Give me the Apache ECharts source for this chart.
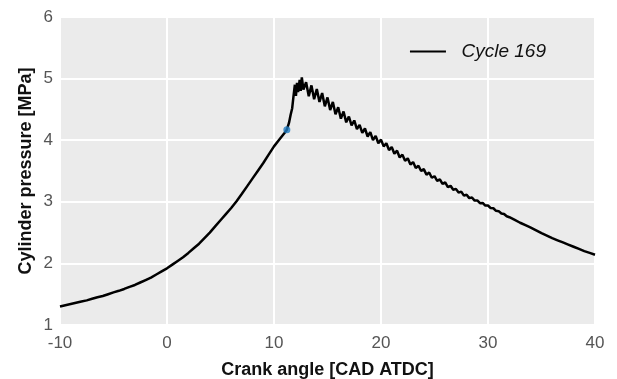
<!DOCTYPE html>
<html>
<head>
<meta charset="utf-8">
<script src="https://cdn.jsdelivr.net/npm/echarts@6/dist/echarts.min.js"></script>
<style>html,body{margin:0;padding:0;background:#fff}#c{width:617px;height:379px}</style>
</head>
<body>
<div id="c"></div>
<script>
var crankAngle = [-10,-9.5,-9,-8.5,-8,-7.5,-7,-6.5,-6,-5.5,-5,-4.5,-4,-3.5,-3,-2.5,-2,-1.5,-1,-0.5,
0,0.5,1,1.5,2,2.5,3,3.5,4,4.5,5,5.5,6,6.5,7,7.5,8,8.5,9,9.5,10,10.5,11,
11.2,11.4,11.55,11.7,11.8,11.95,12.05,12.15,12.25,12.4,12.5,12.6,12.75,
13,13.25,13.5,13.75,14,14.25,14.5,14.75,15,15.25,15.5,15.75,16,16.25,16.5,16.75,17,17.25,17.5,17.75,18,18.25,18.5,18.75,19,19.25,19.5,19.75,
20,20.25,20.5,20.75,21,21.25,21.5,21.75,22,22.25,22.5,22.75,23,23.25,23.5,23.75,24,24.25,24.5,24.75,25,25.25,25.5,25.75,26,26.25,26.5,26.75,
27,27.25,27.5,27.75,28,28.25,28.5,28.75,29,29.25,29.5,29.75,30,30.25,30.5,30.75,31,31.25,31.5,31.75,
32,32.5,33,33.5,34,34.5,35,35.5,36,36.5,37,37.5,38,38.5,39,39.5,40];
var pressure = [1.30,1.32,1.34,1.36,1.38,1.40,1.425,1.45,1.47,1.50,1.53,1.555,1.585,1.62,1.65,1.69,1.73,1.77,1.82,1.87,
1.92,1.98,2.04,2.10,2.17,2.245,2.32,2.41,2.50,2.60,2.70,2.80,2.90,3.01,3.13,3.255,3.38,3.505,3.63,3.765,3.90,4.01,4.12,
4.17,4.28,4.41,4.52,4.68,4.90,4.72,4.93,4.78,4.98,4.80,5.02,4.82,
4.94,4.715,4.89,4.665,4.83,4.62,4.765,4.55,4.695,4.49,4.62,4.42,4.535,4.35,4.465,4.29,4.385,4.24,4.32,4.18,4.25,4.12,4.19,4.06,4.13,4.00,4.07,3.95,
4.01,3.90,3.95,3.84,3.89,3.78,3.83,3.72,3.765,3.665,3.705,3.605,3.645,3.55,3.585,3.50,3.53,3.44,3.475,3.39,3.415,3.34,3.365,3.29,3.315,3.24,3.26,3.195,
3.21,3.15,3.165,3.10,3.115,3.06,3.07,3.02,3.022,2.978,2.982,2.938,2.94,2.898,2.895,2.853,2.848,2.81,2.803,2.765,
2.75,2.705,2.66,2.62,2.58,2.535,2.49,2.45,2.41,2.375,2.34,2.305,2.27,2.235,2.20,2.17,2.14];
var markerPoint = [11.2, 4.17];
var seriesName = 'Cycle 169';
var xTicks = [-10, 0, 10, 20, 30, 40];
var yTicks = [1, 2, 3, 4, 5, 6];

var lineData = crankAngle.map(function (x, i) { return [x, pressure[i]]; });
var font = 'Arial, "Liberation Sans", sans-serif';
var chart = echarts.init(document.getElementById('c'), null, {renderer: 'canvas'});
chart.setOption({
  animation: false,
  textStyle: {fontFamily: font},
  grid: {left: 60, right: 22, top: 17, bottom: 54, outerBoundsMode: 'none', containLabel: false,
         show: true, backgroundColor: '#ebebeb', borderColor: '#d2d2d2', borderWidth: 1},
  legend: {
    show: true, right: 66, top: 37, itemWidth: 36, itemHeight: 14, itemGap: 10,
    data: [{name: seriesName, icon: 'path://M0,6 L36,6 L36,8 L0,8 Z'}],
    formatter: function (n) { return '  ' + n; },
    textStyle: {fontFamily: font, fontSize: 19, fontStyle: 'italic', color: '#111'}
  },
  xAxis: {
    type: 'value', min: xTicks[0], max: xTicks[xTicks.length - 1], interval: 10,
    name: 'Crank angle [CAD ATDC]', nameLocation: 'middle', nameGap: 36, nameMoveOverlap: false,
    nameTextStyle: {fontFamily: font, fontSize: 18, fontWeight: 'bold', color: '#111'},
    axisLine: {show: false}, axisTick: {show: false},
    axisLabel: {color: '#555', fontSize: 17, margin: 10, fontFamily: font},
    splitLine: {show: true, lineStyle: {color: '#ffffff', width: 2}}
  },
  yAxis: {
    type: 'value', min: yTicks[0], max: yTicks[yTicks.length - 1], interval: 1,
    name: 'Cylinder pressure [MPa]', nameLocation: 'middle', nameGap: 25, nameMoveOverlap: false,
    nameTextStyle: {fontFamily: font, fontSize: 18, fontWeight: 'bold', color: '#111'},
    axisLine: {show: false}, axisTick: {show: false},
    axisLabel: {color: '#555', fontSize: 17, margin: 7, fontFamily: font},
    splitLine: {show: true, lineStyle: {color: '#ffffff', width: 2}}
  },
  series: [
    {name: seriesName, type: 'line', data: lineData, showSymbol: false, lineStyle: {color: '#000', width: 2.5}, itemStyle: {color: '#000'}},
    {name: 'marker', type: 'scatter', data: [markerPoint], symbolSize: 7, itemStyle: {color: '#1f7bc1'}, z: 5}
  ]
});
</script>
</body>
</html>
